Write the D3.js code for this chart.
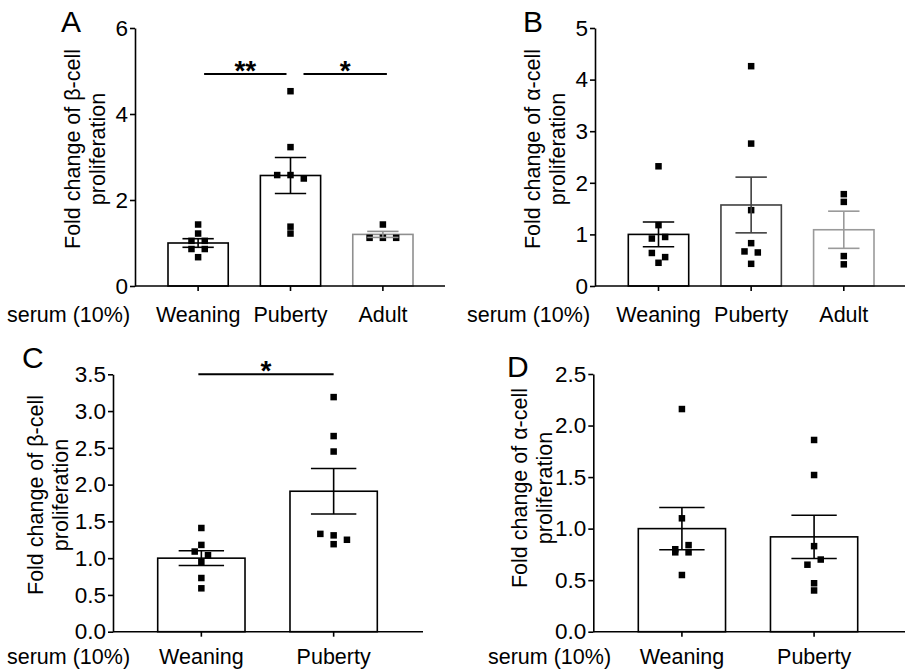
<!DOCTYPE html>
<html><head><meta charset="utf-8">
<script src="https://cdn.jsdelivr.net/npm/d3@7"></script>
<style>
body{margin:0;background:#fff}
svg{display:block;font-family:"Liberation Sans",Arial,Helvetica,sans-serif}
</style>
</head><body>
<svg id="chart" width="905" height="670"></svg>
<script>
// ---------------- data ----------------
const catsABC = ["Weaning", "Puberty", "Adult"];
const catsCD = ["Weaning", "Puberty"];

// Panel A: beta-cell, serum from 3 ages
const aMean = [1.0, 2.57, 1.2];
const aSem = [0.10, 0.42, 0.07];
const aWeaning = [1.43, 1.22, 1.05, 1.05, 0.86, 0.86, 0.67];
const aPuberty = [4.53, 3.23, 2.58, 2.58, 2.50, 1.38, 1.22];
const aAdult = [1.43, 1.12, 1.12, 1.12];
const aTicks = [0, 2, 4, 6];
const aSigLevel = 4.93;

// Panel B: alpha-cell, serum from 3 ages
const bMean = [1.0, 1.57, 1.09];
const bSem = [0.24, 0.54, 0.36];
const bWeaning = [2.32, 1.18, 0.92, 0.95, 0.64, 0.56, 0.45];
const bPuberty = [4.26, 2.76, 1.47, 0.83, 0.67, 0.65, 0.43];
const bAdult = [1.78, 1.63, 0.58, 0.42];
const bTicks = [0, 1, 2, 3, 4, 5];

// Panel C: beta-cell, 2 ages
const cMean = [1.0, 1.91];
const cSem = [0.10, 0.31];
const cWeaning = [1.41, 1.18, 1.09, 1.04, 0.95, 0.73, 0.59];
const cPuberty = [3.19, 2.66, 2.45, 1.33, 1.31, 1.25, 1.19];
const cTicks = [0, 0.5, 1.0, 1.5, 2.0, 2.5, 3.0, 3.5];
const cSigLevel = 3.5;

// Panel D: alpha-cell, 2 ages
const dMean = [1.0, 0.92];
const dSem = [0.205, 0.21];
const dWeaning = [2.16, 1.10, 0.80, 0.84, 0.77, 0.77, 0.55];
const dPuberty = [1.86, 1.52, 0.83, 0.65, 0.70, 0.47, 0.40];
const dTicks = [0, 0.5, 1.0, 1.5, 2.0, 2.5];

const betaTitle = ["Fold change of β-cell", "proliferation"];
const alphaTitle = ["Fold change of α-cell", "proliferation"];
const serumLabel = "serum (10%)";

// ---------------- drawing ----------------
const svg = d3.select("#chart");
svg.append("rect").attr("width", 905).attr("height", 670).attr("fill", "#fff");

const FS = 21.5;
const TFS = 22.5;
const LW = 1.6;

// Prism-like dot spreading: rows of close values, centered
function spread(vals, y, h, s) {
  const idx = vals.map((v, i) => i).sort((a, b) => vals[b] - vals[a]);
  const rows = []; let cur = null;
  idx.forEach(i => {
    const py = y(vals[i]);
    if (!cur || py - cur.y0 >= h) { cur = {y0: py, m: []}; rows.push(cur); }
    cur.m.push(i);
  });
  const off = new Array(vals.length).fill(0);
  rows.forEach(r => {
    r.m.sort((a, b) => a - b);
    const n = r.m.length;
    r.m.forEach((i, k) => off[i] = (k - (n - 1) / 2) * s);
  });
  return off;
}

function panel(cfg) {
  const g = svg.append("g");
  const y = d3.scaleLinear().domain([0, cfg.yMax]).range([cfg.yBot, cfg.yTop]);
  const x = d3.scaleBand().domain(cfg.cats).range([cfg.bandL, cfg.bandR])
    .paddingInner(cfg.pad).paddingOuter(0);
  const bw = x.bandwidth();

  // bars
  cfg.cats.forEach((c, i) => {
    g.append("rect")
      .attr("x", x(c)).attr("y", y(cfg.means[i]))
      .attr("width", bw).attr("height", y(0) - y(cfg.means[i]))
      .attr("fill", "#fff").attr("stroke", cfg.colors[i]).attr("stroke-width", LW);
  });

  // points
  const ms = 6.5;
  cfg.cats.forEach((c, i) => {
    const vals = cfg.pts[i];
    const off = spread(vals, y, 6.5, 13.3);
    const cx = x(c) + bw / 2;
    g.selectAll(null).data(vals).enter().append("rect")
      .attr("x", (d, k) => cx + off[k] - ms / 2)
      .attr("y", d => y(d) - ms / 2)
      .attr("width", ms).attr("height", ms)
      .attr("fill", "#000");
  });

  // error bars
  cfg.cats.forEach((c, i) => {
    const cx = x(c) + bw / 2;
    const hi = y(cfg.means[i] + cfg.sems[i]);
    const lo = y(cfg.means[i] - cfg.sems[i]);
    const cw = bw * 0.26;
    const col = cfg.colors[i];
    g.append("line").attr("x1", cx).attr("x2", cx).attr("y1", hi).attr("y2", lo)
      .attr("stroke", col).attr("stroke-width", LW);
    [hi, lo].forEach(yy => g.append("line")
      .attr("x1", cx - cw).attr("x2", cx + cw).attr("y1", yy).attr("y2", yy)
      .attr("stroke", col).attr("stroke-width", LW));
  });

  // y axis
  const ya = g.append("g").attr("transform", `translate(${cfg.ax},0)`)
    .call(d3.axisLeft(y).tickValues(cfg.ticks).tickFormat(cfg.fmt)
      .tickSize(5).tickSizeOuter(0).tickPadding(2));
  ya.select(".domain").attr("stroke-width", LW);
  ya.selectAll(".tick line").attr("stroke-width", LW);
  ya.selectAll("text").attr("font-size", TFS).attr("fill", "#000")
    .attr("font-family", "Liberation Sans, Arial, sans-serif");

  // x axis
  const xa = g.append("g").attr("transform", `translate(0,${cfg.yBot})`)
    .call(d3.axisBottom(x).tickSize(5).tickPadding(cfg.xPad));
  xa.select(".domain").remove();
  xa.selectAll(".tick line").attr("stroke-width", LW);
  xa.selectAll("text").attr("font-size", FS).attr("fill", "#000")
    .attr("font-family", "Liberation Sans, Arial, sans-serif");
  g.append("line").attr("x1", cfg.ax).attr("x2", cfg.axEnd)
    .attr("y1", cfg.yBot).attr("y2", cfg.yBot)
    .attr("stroke", "#000").attr("stroke-width", LW);

  // serum label
  g.append("text").attr("x", cfg.serumX).attr("y", cfg.yBot + cfg.xPad + 20)
    .attr("font-size", FS).attr("fill", "#000").text(serumLabel);

  // y title
  const t = g.append("text")
    .attr("transform", `translate(${cfg.titleX},${cfg.titleY}) rotate(-90)`)
    .attr("text-anchor", "middle").attr("font-size", FS).attr("fill", "#000");
  cfg.title.forEach((line, k) => t.append("tspan").attr("x", 0)
    .attr("y", k * 25).text(line));

  // panel letter
  g.append("text").attr("x", cfg.labelX).attr("y", cfg.labelY)
    .attr("font-size", 30).attr("fill", "#000").text(cfg.label);

  // significance
  (cfg.sig || []).forEach(s => {
    const x1 = x(s.a) + bw / 2 + s.i1;
    const x2 = x(s.b) + bw / 2 + s.i2;
    const yy = y(cfg.sigLevel);
    g.append("line").attr("x1", x1).attr("x2", x2).attr("y1", yy).attr("y2", yy)
      .attr("stroke", "#000").attr("stroke-width", LW + 0.3);
    g.append("text").attr("x", (x1 + x2) / 2).attr("y", yy + 6)
      .attr("text-anchor", "middle").attr("font-size", 28).attr("font-weight", "bold")
      .attr("fill", "#000").text(s.t);
  });
}

panel({cats: catsABC, means: aMean, sems: aSem, pts: [aWeaning, aPuberty, aAdult],
  colors: ["#000", "#000", "#8f8f8f"], yMax: 6, ticks: aTicks, fmt: d3.format("d"),
  ax: 135, axEnd: 445, yTop: 28, yBot: 286, bandL: 168, bandR: 413, pad: 0.348,
  label: "A", labelX: 61, labelY: 32, title: betaTitle, titleX: 80, titleY: 149,
  serumX: 7, xPad: 16, sigLevel: aSigLevel,
  sig: [{a: "Weaning", b: "Puberty", t: "**", i1: 6, i2: -4},
        {a: "Puberty", b: "Adult", t: "*", i1: 13, i2: 4}]});

panel({cats: catsABC, means: bMean, sems: bSem, pts: [bWeaning, bPuberty, bAdult],
  colors: ["#000", "#404040", "#9a9a9a"], yMax: 5, ticks: bTicks, fmt: d3.format("d"),
  ax: 595, axEnd: 905, yTop: 28, yBot: 286, bandL: 628.3, bandR: 874, pad: 0.348,
  label: "B", labelX: 523, labelY: 32, title: alphaTitle, titleX: 540, titleY: 149,
  serumX: 467, xPad: 16});

panel({cats: catsCD, means: cMean, sems: cSem, pts: [cWeaning, cPuberty],
  colors: ["#000", "#000"], yMax: 3.5, ticks: cTicks, fmt: d3.format(".1f"),
  ax: 113, axEnd: 423, yTop: 374.3, yBot: 631.7, bandL: 157.7, bandR: 377.3, pad: 0.34,
  label: "C", labelX: 22, labelY: 368, title: betaTitle, titleX: 43, titleY: 495,
  serumX: 7, xPad: 12, sigLevel: cSigLevel,
  sig: [{a: "Weaning", b: "Puberty", t: "*", i1: -3, i2: 0}]});

panel({cats: catsCD, means: dMean, sems: dSem, pts: [dWeaning, dPuberty],
  colors: ["#000", "#000"], yMax: 2.5, ticks: dTicks, fmt: d3.format(".1f"),
  ax: 593.3, axEnd: 905, yTop: 374, yBot: 631.7, bandL: 638.3, bandR: 857.7, pad: 0.34,
  label: "D", labelX: 507, labelY: 377, title: alphaTitle, titleX: 527, titleY: 488,
  serumX: 488, xPad: 12});
</script>
</body></html>
